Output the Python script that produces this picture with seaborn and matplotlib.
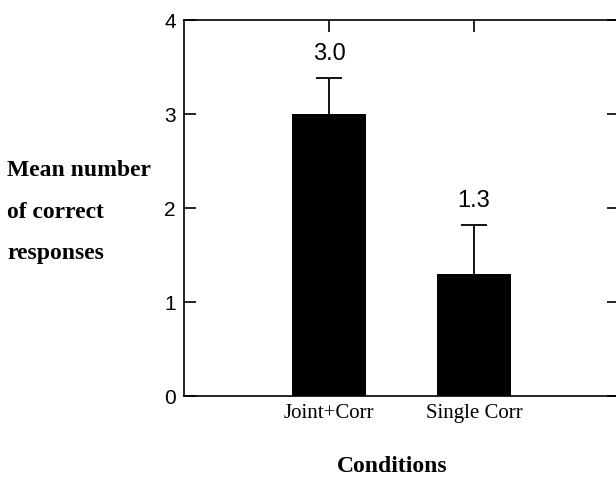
import pandas as pd
import seaborn as sns
import matplotlib.pyplot as plt

conditions = ["Joint+Corr", "Single Corr"]
means = [3.0, 1.3]
errors = [0.38, 0.52]
value_labels = ["3.0", "1.3"]
y_ticks = [0, 1, 2, 3, 4]

sns.set_style("ticks")
plt.rcParams['font.family'] = ['Liberation Sans', 'DejaVu Sans']
plt.rcParams['text.color'] = 'black'

df = pd.DataFrame({"condition": conditions, "mean": means})

fig = plt.figure(figsize=(6.16, 4.82), dpi=100)
ax = fig.add_axes([184 / 616, 1 - 396 / 482, 435 / 616, 376 / 482])

sns.barplot(data=df, x="condition", y="mean", color="black", width=0.51,
            saturation=1, errorbar=None, ax=ax, zorder=2,
            edgecolor="black", linewidth=0)
eb = ax.errorbar(range(len(means)), means, yerr=[[0] * len(errors), errors],
                 fmt="none", ecolor="black", elinewidth=1.3, capsize=9.4,
                 capthick=1.3, zorder=3)
# only the upper cap is drawn in the original
eb[1][0].set_visible(False)

for i, (m, e, lab) in enumerate(zip(means, errors, value_labels)):
    ax.annotate(lab, (i, m + e), xytext=(0, 9.5), textcoords="offset points",
                ha="center", va="bottom", fontsize=17, color="black")

ax.set_xlim(-1.0, 2.0)
ax.set_ylim(0, 4)
ax.set_yticks(y_ticks)
ax.tick_params(direction="in", top=True, right=True, length=8.5, width=1.2,
               labelsize=15, colors="black", pad=6)
ax.tick_params(axis="x", labelsize=15, pad=6)
for lab in ax.get_xticklabels():
    lab.set_fontfamily(["Liberation Serif"])
for s in ax.spines.values():
    s.set_linewidth(1.2)
    s.set_color("black")

ax.set_xlabel("")
ax.set_ylabel("")
fig.text(7 / 616, 1 - 170 / 482, "Mean number", family=["Liberation Serif"],
         fontweight="bold", fontsize=17, va="center", ha="left")
fig.text(7 / 616, 1 - 212 / 482, "of correct", family=["Liberation Serif"],
         fontweight="bold", fontsize=17, va="center", ha="left")
fig.text(7 / 616, 1 - 253 / 482, "responses", family=["Liberation Serif"],
         fontweight="bold", fontsize=17, va="center", ha="left")
fig.text(392 / 616, 1 - 467 / 482, "Conditions", family=["Liberation Serif"],
         fontweight="bold", fontsize=17, va="center", ha="center")

fig.savefig("out.png", dpi=100)
